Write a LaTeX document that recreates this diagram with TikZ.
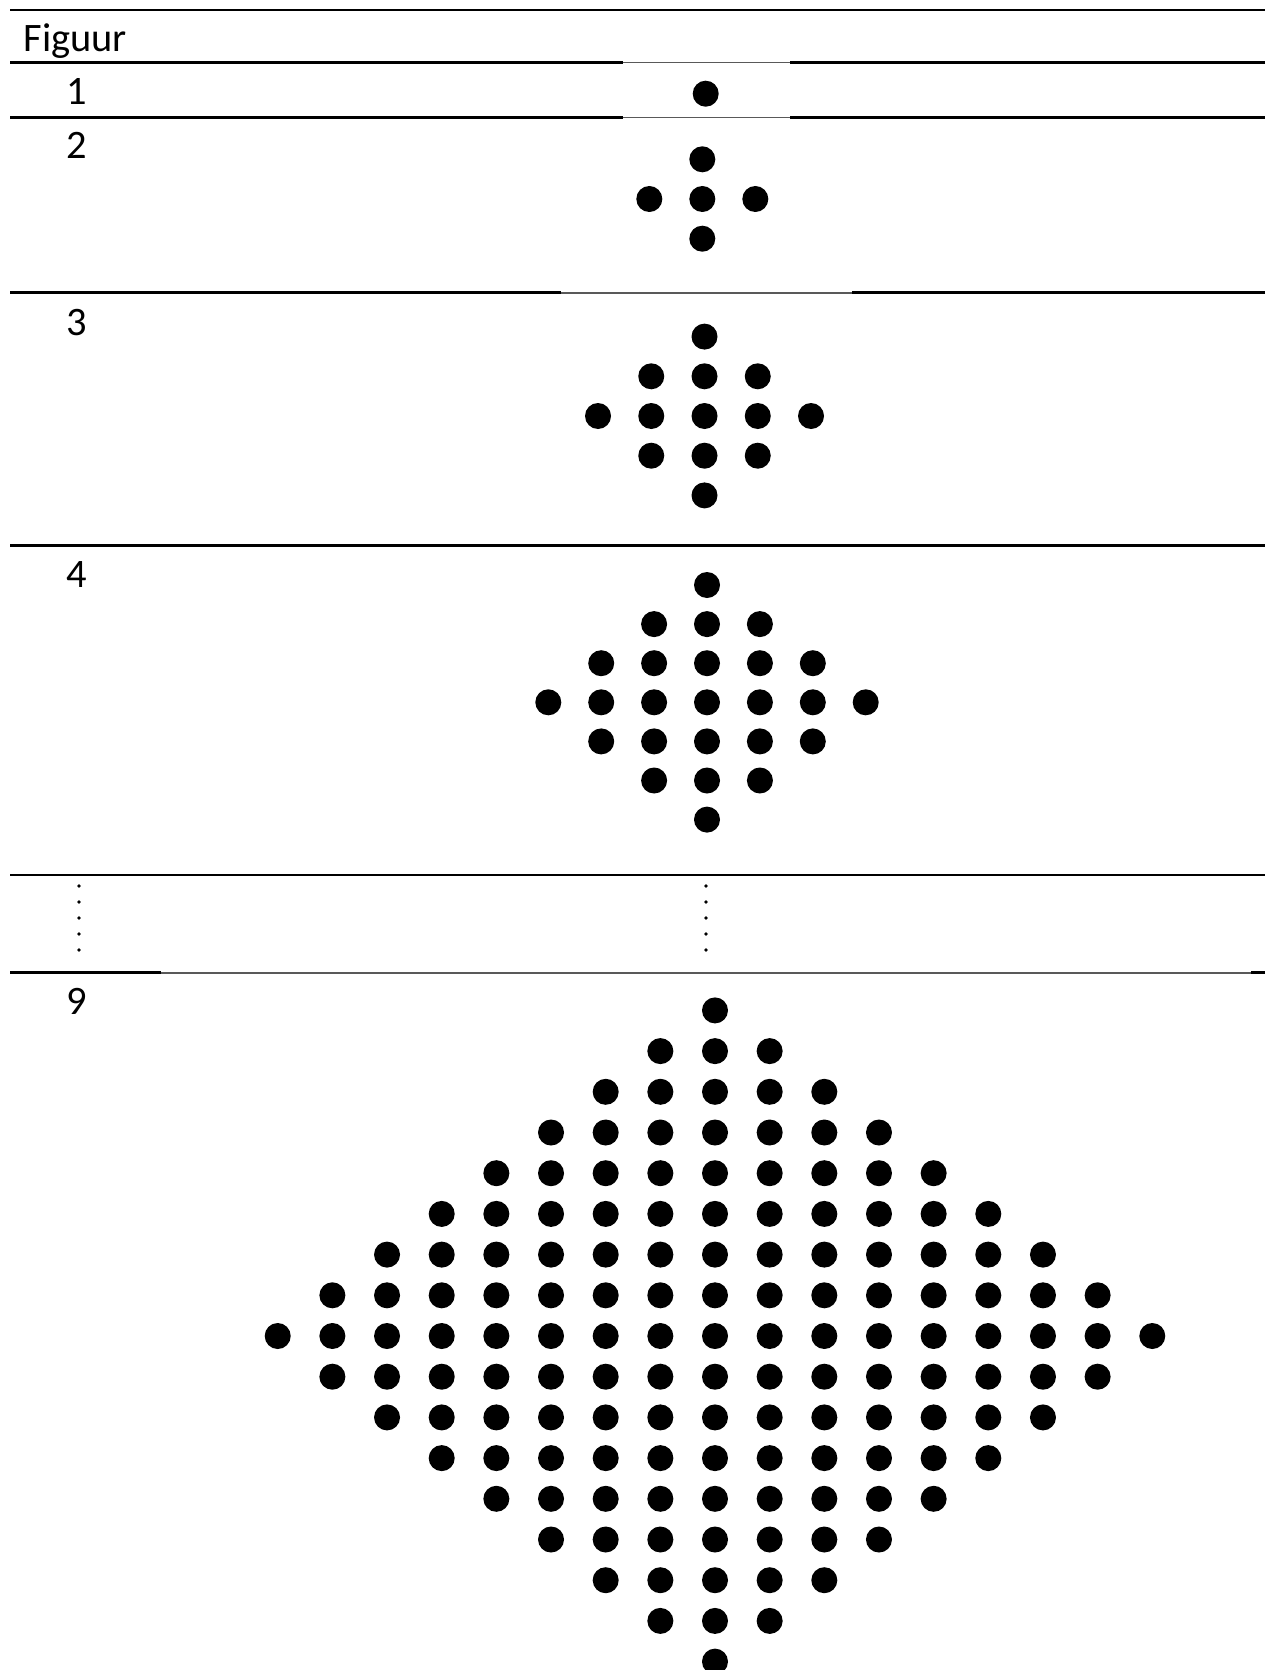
\documentclass[tikz,border=0pt]{standalone}
\usepackage{fontspec}
\setmainfont{Carlito}
\tikzset{
  regel/.style={line width=0.8pt, black},
  dunregel/.style={line width=0.45pt, black!65},
  stip/.style={fill=black},
  nummer/.style={anchor=base west, inner sep=0pt, font=\fontsize{11.5pt}{14pt}\selectfont}
}
\begin{document}
\begin{tikzpicture}[x=0.1mm, y=-0.1mm]
    \useasboundingbox (0,0) rectangle (1266,1670);
    % tabelregels
    \draw[regel] (10,10) -- (1265,10);
    \draw[regel] (10,62.5) -- (623,62.5);
    \draw[dunregel] (623,62.5) -- (790,62.5);
    \draw[regel] (790,62.5) -- (1265,62.5);
    \draw[regel] (10,117.7) -- (623,117.7);
    \draw[dunregel] (623,117.7) -- (790,117.7);
    \draw[regel] (790,117.7) -- (1265,117.7);
    \draw[regel] (10,292.8) -- (561,292.8);
    \draw[dunregel] (561,292.8) -- (852,292.8);
    \draw[regel] (852,292.8) -- (1265,292.8);
    \draw[regel] (10,545.7) -- (1265,545.7);
    \draw[regel] (10,875) -- (1265,875);
    \draw[regel] (10,972.7) -- (160.7,972.7);
    \draw[dunregel] (160.7,972.7) -- (1251,972.7);
    \draw[regel] (1251,972.7) -- (1265,972.7);
    % kolom met figuurnummers
    \node[nummer] (kop) at (23,52) {Figuur};
    \node[nummer] (nr1) at (66,105) {1};
    \node[nummer] (nr2) at (66,159) {2};
    \node[nummer] (nr3) at (66,335) {3};
    \node[nummer] (nr4) at (66,587) {4};
    \node[nummer] (nr9) at (66,1014) {9};
    % puntjes voor het weglatingsteken
    \foreach \y in {886,902,918,934,950}{
        \fill (79,\y) circle[radius=0.18mm];
        \fill (706,\y) circle[radius=0.18mm];
    }
    % ruitvormige stippenpatronen
    \foreach \n/\cx/\cy/\dx/\dy in {1/705.7/93.7/53/39.5, 2/702.3/199/53/39.7,
                                    3/704.5/416/53.25/39.7, 4/707/702.3/52.9/39.1,
                                    9/715/1336/54.66/40.7}{
        \pgfmathtruncatemacro{\m}{\n-1}
        \foreach \k in {-\m,...,\m}{
            \pgfmathtruncatemacro{\w}{\m-abs(\k)}
            \foreach \j in {-\w,...,\w}{
                \fill[stip] ({\cx+\j*\dx},{\cy+\k*\dy}) circle[radius=1.3mm];
            }
        }
    }
\end{tikzpicture}
\end{document}
